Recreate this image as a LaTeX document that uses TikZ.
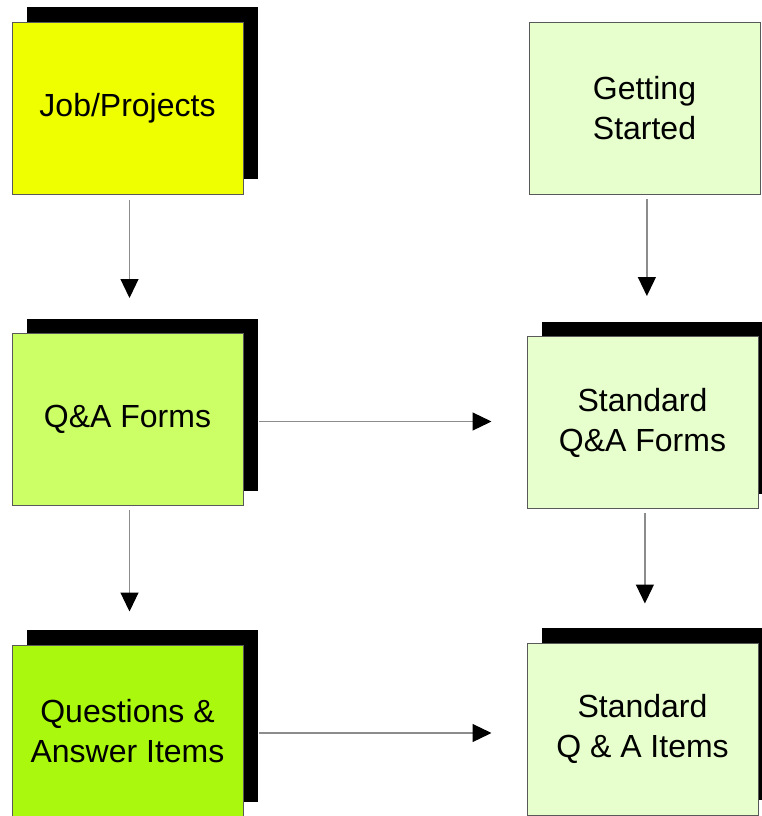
\documentclass[tikz,border=0pt]{standalone}
\usepackage{fontspec}
\setmainfont{Liberation Sans}
\usetikzlibrary{arrows.meta,shadows}
\definecolor{jobyellow}{HTML}{F0FF00}
\definecolor{formgreen}{HTML}{CCFF66}
\definecolor{itemgreen}{HTML}{AAF80E}
\definecolor{stdgreen}{HTML}{E6FFCC}
\begin{document}
\begin{tikzpicture}[x=0.5pt, y=-0.5pt,
  box/.style={draw=black!65, line width=0.5pt, minimum width=115.5pt, minimum height=86pt,
    inner sep=0pt, align=center, font=\fontsize{16}{20}\selectfont},
  shadowed/.style={drop shadow={shadow xshift=7.5pt, shadow yshift=7.5pt, fill=black, opacity=1}},
  link/.style={draw=black!45, line width=0.6pt, -{Triangle[length=9.5pt, width=9pt, black]}}]
\useasboundingbox (0,0) rectangle (762,816);
\node[box, shadowed, fill=jobyellow] (job) at (127.5,108) {Job/Projects};
\node[box, fill=stdgreen] (gs) at (644.5,108.5) {Getting\\Started};
\node[box, shadowed, fill=formgreen] (qaf) at (127.5,419.5) {Q\&A Forms};
\node[box, shadowed, fill=stdgreen] (sqf) at (642.5,422.5) {Standard\\Q\&A Forms};
\node[box, shadowed, fill=itemgreen] (qai) at (127.5,731) {Questions \&\\Answer Items};
\node[box, shadowed, fill=stdgreen] (sqi) at (642.5,729) {Standard\\Q \& A Items};
\draw[link, shorten <=2.5pt, shorten >=17.5pt] ([xshift=1pt]job.south) -- ([xshift=1pt]qaf.north);
\draw[link, shorten <=2pt, shorten >=16.5pt] ([xshift=1pt]qaf.south) -- ([xshift=1pt]qai.north);
\draw[link, shorten <=2pt, shorten >=20pt] ([xshift=1.2pt]gs.south) -- ([xshift=1.2pt]gs.south |- sqf.north);
\draw[link, shorten <=2pt, shorten >=19.5pt] ([xshift=1.2pt]sqf.south) -- ([xshift=1.2pt]sqi.north);
\draw[link, shorten <=7.5pt, shorten >=17.5pt] ([yshift=-1pt]qaf.east) -- ([yshift=-1pt]qaf.east -| sqf.west);
\draw[link, shorten <=7.5pt, shorten >=17.5pt] ([yshift=-1pt]qai.east) -- ([yshift=-1pt]qai.east -| sqi.west);
\end{tikzpicture}
\end{document}
